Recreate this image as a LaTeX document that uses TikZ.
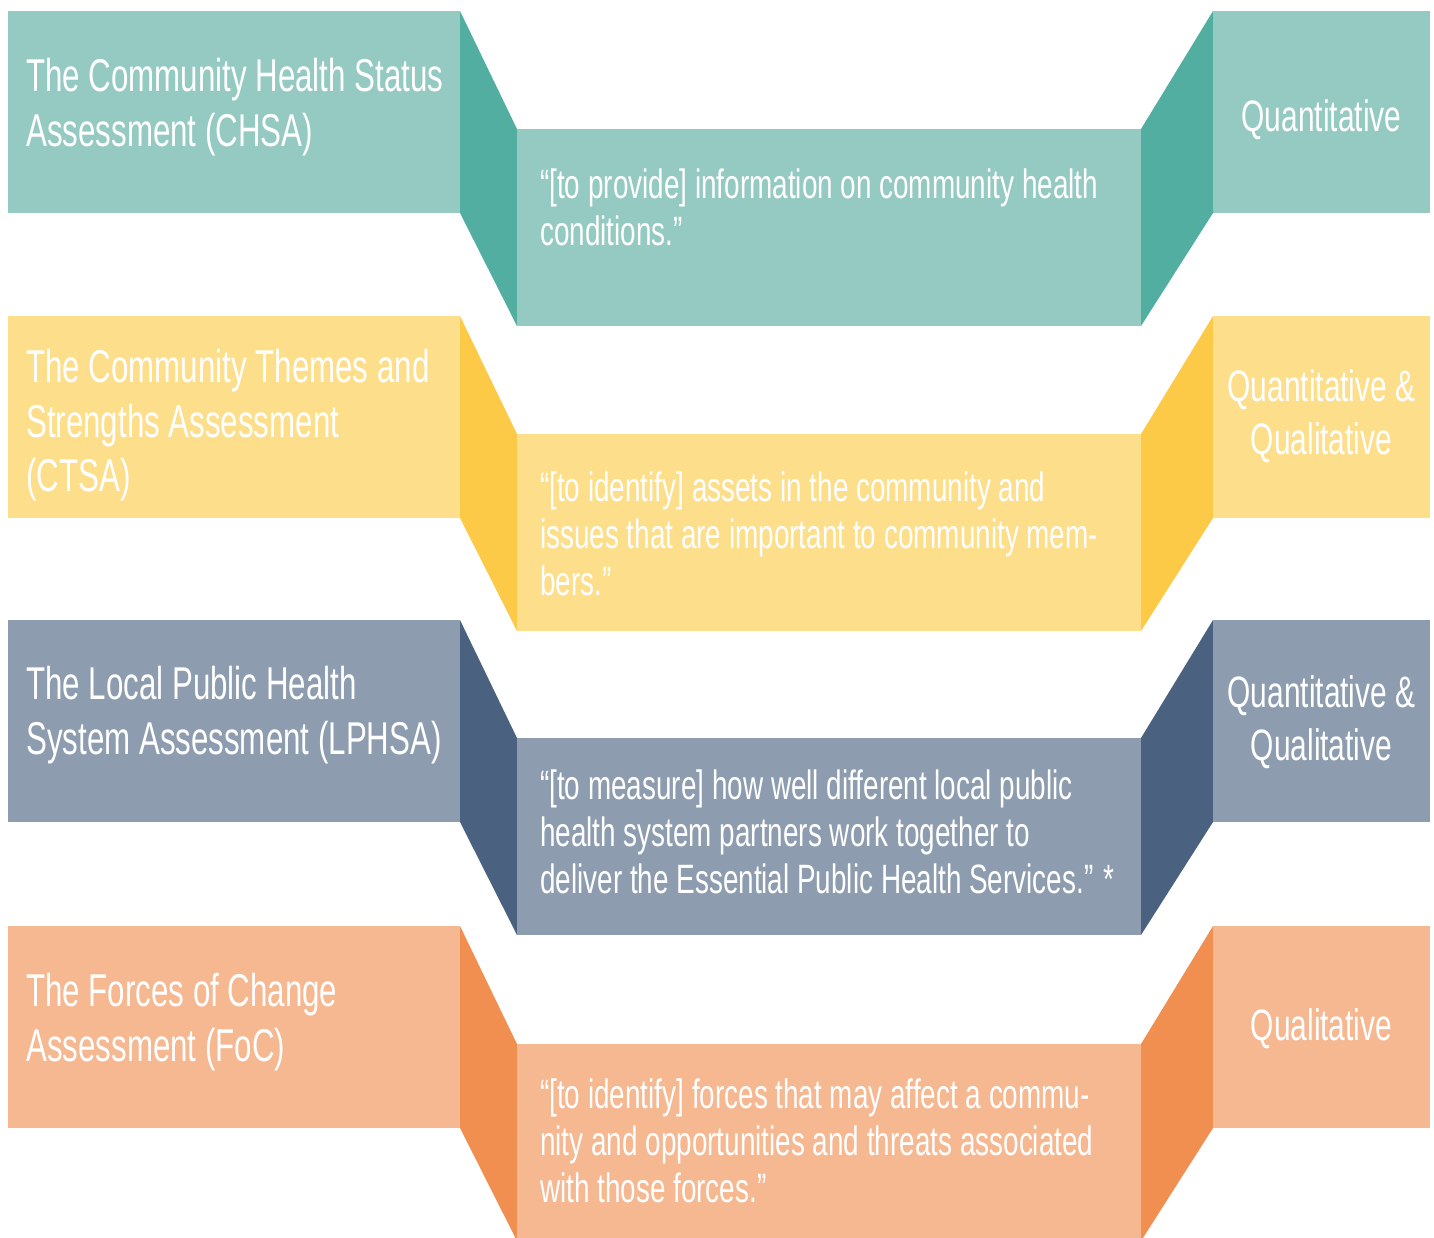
\documentclass[tikz,border=0pt]{standalone}
\usepackage{fontspec}
\setmainfont[FakeStretch=0.68]{Liberation Sans}
\definecolor{tealL}{HTML}{95CAC3}
\definecolor{tealD}{HTML}{52AEA1}
\definecolor{yelL}{HTML}{FDDE8B}
\definecolor{yelD}{HTML}{FDCA47}
\definecolor{slaL}{HTML}{8D9DAF}
\definecolor{slaD}{HTML}{4A6280}
\definecolor{oraL}{HTML}{F5B891}
\definecolor{oraD}{HTML}{F18F51}
\tikzset{
  lefttext/.style={anchor=base west, align=left, text=white, inner sep=0pt,
    font=\fontsize{46}{54.5}\selectfont},
  midtext/.style={anchor=base west, align=left, text=white, inner sep=0pt,
    font=\fontsize{41}{47}\selectfont},
  righttext/.style={anchor=base, align=center, text=white, inner sep=0pt,
    font=\fontsize{44}{52.5}\selectfont}
}
\begin{document}
\begin{tikzpicture}[x=1pt,y=-1pt]
\useasboundingbox (0,0) rectangle (1434,1237);
\clip (0,0) rectangle (1434,1237);
\foreach \T/\cl/\cd in {11/tealL/tealD, 316/yelL/yelD, 620/slaL/slaD, 926/oraL/oraD}{
  \fill[\cl] (8,\T) rectangle (460,\T+202);
  \fill[\cd] (460,\T) -- (517,\T+118) -- (517,\T+315) -- (460,\T+202) -- cycle;
  \fill[\cl] (517,\T+118) rectangle (1141,\T+315);
  \fill[\cd] (1213,\T) -- (1141,\T+118) -- (1141,\T+315) -- (1213,\T+202) -- cycle;
  \fill[\cl] (1213,\T) rectangle (1430,\T+202);
}
% left labels (anchor = baseline of last line)
\node[lefttext] (l1) at (26,146) {The Community Health Status\\Assessment (CHSA)};
\node[lefttext] (l2) at (26,491.5) {The Community Themes and\\Strengths Assessment\\(CTSA)};
\node[lefttext] (l3) at (26,754) {The Local Public Health\\System Assessment (LPHSA)};
\node[lefttext] (l4) at (26,1061) {The Forces of Change\\Assessment (FoC)};
% middle quotes
\node[midtext] (m1) at (540,245.5) {“[to provide] information on community health\\conditions.”};
\node[midtext] (m2) at (540,595) {“[to identify] assets in the community and\\issues that are important to community mem-\\bers.”};
\node[midtext] (m3) at (540,893.5) {“[to measure] how well different local public\\health system partners work together to\\deliver the Essential Public Health Services.” *};
\node[midtext] (m4) at (540,1202) {“[to identify] forces that may affect a commu-\\nity and opportunities and threats associated\\with those forces.”};
% right labels
\node[righttext] (r1) at (1321.5,131) {Quantitative};
\node[righttext] (r2) at (1321.5,454) {Quantitative \&\\Qualitative};
\node[righttext] (r3) at (1321.5,760) {Quantitative \&\\Qualitative};
\node[righttext] (r4) at (1321.5,1040) {Qualitative};
\end{tikzpicture}
\end{document}
